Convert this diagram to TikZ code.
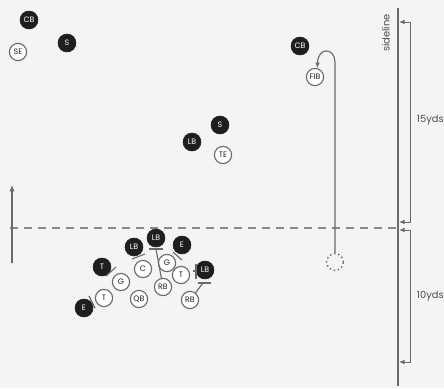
\documentclass[tikz,border=0pt]{standalone}
\usepackage{fontspec}
\setmainfont{Poppins}
\usetikzlibrary{arrows.meta,calc}
\definecolor{pgInk}{HTML}{1E1E1E}
\definecolor{pgLine}{HTML}{6A6A6A}
\definecolor{pgPaper}{HTML}{F4F4F2}
\tikzset{
    defp/.style={circle,fill=pgInk,draw=pgInk,text=white,minimum size=0.45cm,
        inner sep=0pt,font=\fontsize{5.6}{5.6}\selectfont},
    offp/.style={circle,fill=white,draw=pgLine,line width=0.8pt,text=pgInk,
        minimum size=0.43cm,inner sep=0pt,font=\fontsize{5.6}{5.6}\selectfont},
    block/.style={pgLine,line width=0.8pt},
    dim/.style={pgLine,line width=0.7pt,{Latex[length=1.4mm,width=1.2mm]}-{Latex[length=1.4mm,width=1.2mm]}},
    dimlabel/.style={anchor=west,text=pgInk!80,font=\fontsize{7}{7}\selectfont},
}

\begin{document}
\begin{tikzpicture}[x=0.025cm,y=-0.025cm]
    % Paper
    \fill[pgPaper] (0,0) rectangle (444,388);
    \useasboundingbox (0,0) rectangle (444,388);

    % Sideline and yardage brackets
    \draw[pgLine,line width=0.8pt] (398,8) -- (398,386);
    \node[rotate=90,text=pgInk!80,font=\fontsize{7}{7}\selectfont] (side) at (386,33) {sideline};
    \draw[dim] (399,22) -- (410,22) -- (410,222) -- (399,222);
    \node[dimlabel] at (412,120) {15yds};
    \draw[dim] (399,230) -- (410,230) -- (410,362) -- (399,362);
    \node[dimlabel] at (412,296) {10yds};

    % Line of scrimmage and direction of play
    \draw[pgLine!80,line width=0.8pt,dash pattern=on 2mm off 1.5mm] (10,228) -- (398,228);
    \coordinate (dirfoot) at (12,263);
    \coordinate (dirhead) at (12,185);
    \draw[pgLine,line width=0.8pt,-{Latex[length=1.6mm,width=1.3mm]}] (dirfoot) -- (dirhead);

    % Deep players
    \node[defp] (cbl) at (29,20) {CB};
    \node[offp] (se) at (18,52) {SE};
    \node[defp] (ssl) at (67,43) {S};
    \node[defp] (cbr) at (300,46) {CB};
    \node[offp] (fib) at (315,77) {FIB};
    \node[defp] (ssr) at (220,125) {S};
    \node[defp] (lbd) at (192,142) {LB};
    \node[offp] (te) at (223,155) {TE};

    % Motion route
    \node[circle,draw=pgLine,dotted,line width=1pt,minimum size=0.42cm] (fbstart) at (335,262) {};
    \draw[pgLine,line width=0.8pt,-{Latex[length=1.4mm,width=1.2mm]}]
        (fbstart.north) -- (335,62) .. controls (335,48) and (318,46) .. (fib.75);

    % Front at the line
    \node[defp] (lbt) at (156,238) {LB};
    \node[defp] (lbl) at (134,247) {LB};
    \node[defp] (er) at (182,245) {E};
    \node[defp] (tl) at (102,267) {T};
    \node[defp] (lbr) at (205,270) {LB};
    \node[defp] (el) at (84,308) {E};
    \node[offp] (c) at (143,269) {C};
    \node[offp] (gr) at (167,263) {G};
    \node[offp] (gl) at (121,282) {G};
    \node[offp] (tr) at (181,275) {T};
    \node[offp] (rbm) at (163,287) {RB};
    \node[offp] (qb) at (139,299) {QB};
    \node[offp] (rbr) at (190,300) {RB};
    \node[offp] (tlo) at (104,298) {T};

    % Blocks
    \draw[block] (149,249) -- (163,249);
    \coordinate (lbtbar) at (156,249);
    \draw[block] (lbtbar) -- (rbm);
    \draw[block] (132,259) -- (145,254);
    \draw[block] (173,252) -- (182,260);
    \draw[block] (106,276) -- (116,267);
    \draw[block] (89,296) -- (95,308);
    \draw[block] (196,264) -- (196,279);
    \draw[block] (193,271) -- (196,271);
    \draw[block] (198,283) -- (211,283);
    \coordinate (lbrbar) at (203,283);
    \draw[block] (lbrbar) -- (rbr);
\end{tikzpicture}
\end{document}
